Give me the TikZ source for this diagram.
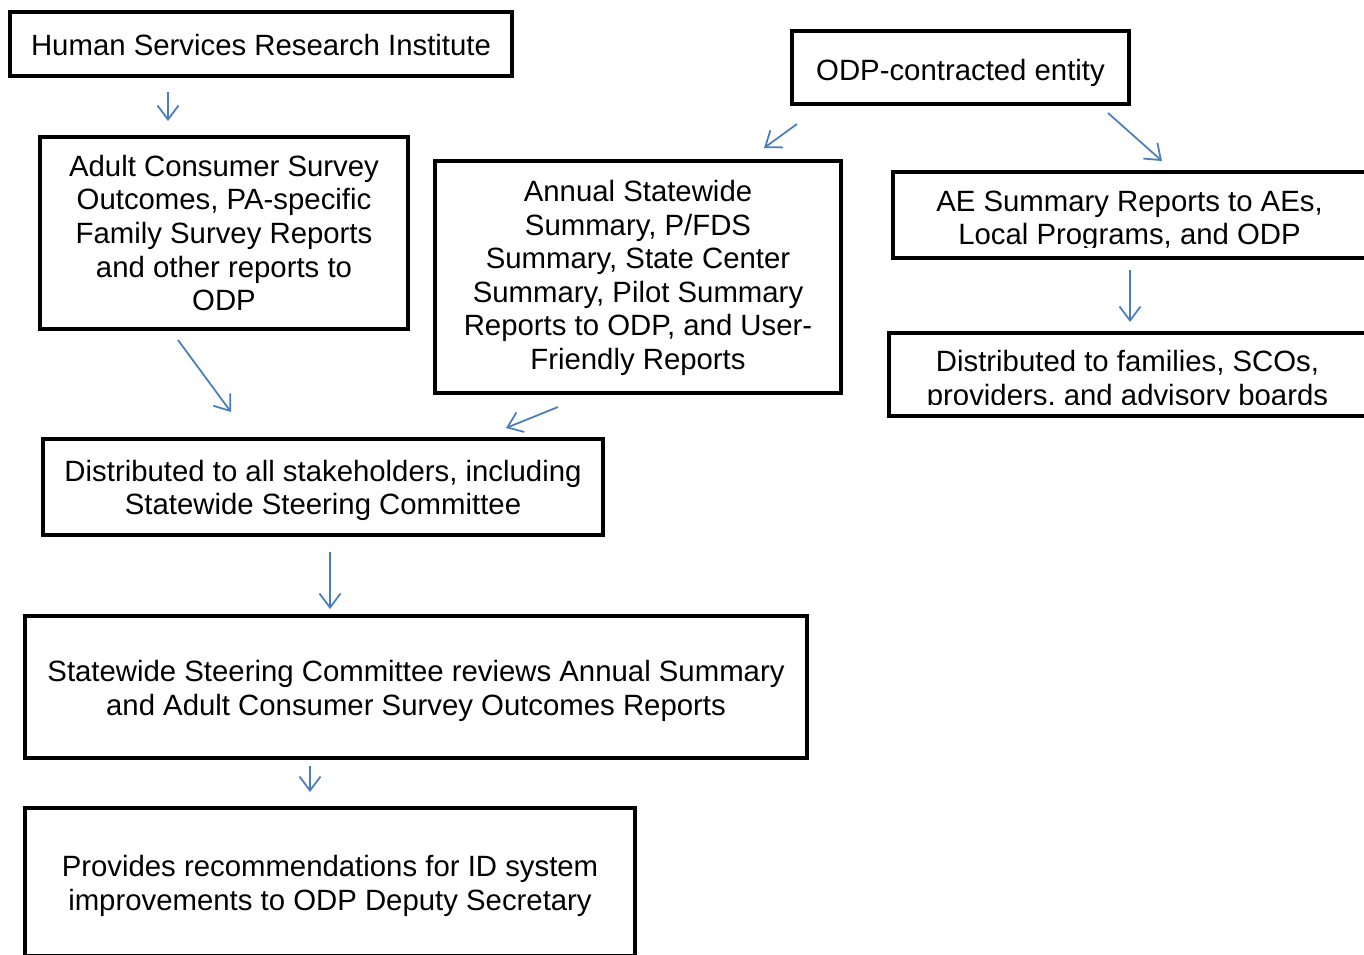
\documentclass[tikz,border=0pt]{standalone}
\usepackage{fontspec}
\setmainfont{Liberation Sans}
\usepackage{tikz}
\usetikzlibrary{arrows.meta}
\definecolor{flowblue}{RGB}{74,126,187}

\begin{document}
\begin{tikzpicture}[x=0.02cm, y=-0.02cm,
    box/.style={draw=black, line width=2.3pt, inner sep=0pt},
    boxtext/.style={align=center, inner sep=0pt,
      font=\fontsize{16.7}{19.1}\selectfont},
    flow/.style={draw=flowblue, line width=1pt,
      -{Straight Barb[length=8pt,width=12pt]}}]
      \useasboundingbox (0,0) rectangle (1364,954);
      % frames
      \node[box, minimum width=10.04cm, minimum height=1.28cm] (hsri) at (261,44) {};
      \node[box, minimum width=6.74cm, minimum height=1.46cm] (odp) at (960.5,67.5) {};
      \node[box, minimum width=7.36cm, minimum height=3.84cm] (adult) at (224,233) {};
      \node[box, minimum width=8.12cm, minimum height=4.64cm] (annual) at (638,277) {};
      \node[box, minimum width=9.46cm, minimum height=1.72cm] (ae) at (1129.5,215) {};
      \node[box, minimum width=9.54cm, minimum height=1.66cm] (families) at (1127.5,374.5) {};
      \node[box, minimum width=11.2cm, minimum height=1.92cm] (stake) at (323,487) {};
      \node[box, minimum width=15.64cm, minimum height=2.84cm] (steering) at (416,687) {};
      \node[box, minimum width=12.2cm, minimum height=2.96cm] (recs) at (330,882) {};
      % texts
      \node[boxtext] (hsri-text) at (261,45) {Human Services Research Institute};
      \node[boxtext] (odp-text) at (960.5,72.5) {ODP-contracted entity};
      \node[boxtext] (adult-text) at (224,233)
        {Adult Consumer Survey\\Outcomes, PA-specific\\Family Survey Reports\\and other reports to\\ODP};
      \node[boxtext] (annual-text) at (638,278)
        {Annual Statewide\\Summary, P/FDS\\Summary, State Center\\Summary, Pilot Summary\\Reports to ODP, and User-\\Friendly Reports};
      \begin{scope}
        \clip (893,172) rectangle (1364,247);
        \node[boxtext] (ae-text) at (1129.5,221)
          {AE Summary Reports to AEs,\\Local Programs, and ODP};
      \end{scope}
      \begin{scope}
        \clip (889,333) rectangle (1364,404.5);
        \node[boxtext] (families-text) at (1127.5,381)
          {Distributed to families, SCOs,\\providers, and advisory boards};
      \end{scope}
      \node[boxtext] (stake-text) at (323,490.5)
        {Distributed to all stakeholders, including\\Statewide Steering Committee};
      \node[boxtext] (steering-text) at (416,691)
        {Statewide Steering Committee reviews Annual Summary\\and Adult Consumer Survey Outcomes Reports};
      \node[boxtext] (recs-text) at (330,886)
        {Provides recommendations for ID system\\improvements to ODP Deputy Secretary};
      % arrow ends between the boxes
      \coordinate (hsri-out) at (168,92);
      \coordinate (adult-in) at (168,121);
      \coordinate (odp-outl) at (797,124);
      \coordinate (annual-in) at (764,148);
      \coordinate (odp-outr) at (1108,113);
      \coordinate (ae-in) at (1162,161);
      \coordinate (ae-out) at (1130,270);
      \coordinate (families-in) at (1130,322);
      \coordinate (adult-out) at (178,340);
      \coordinate (stake-inl) at (231,412);
      \coordinate (annual-out) at (558,407);
      \coordinate (stake-inr) at (506,428);
      \coordinate (stake-out) at (330,552);
      \coordinate (steering-in) at (330,609);
      \coordinate (steering-out) at (310,766);
      \coordinate (recs-in) at (310,792);
      \draw[flow] (hsri-out) -- (adult-in);
      \draw[flow] (odp-outl) -- (annual-in);
      \draw[flow] (odp-outr) -- (ae-in);
      \draw[flow] (ae-out) -- (families-in);
      \draw[flow] (adult-out) -- (stake-inl);
      \draw[flow] (annual-out) -- (stake-inr);
      \draw[flow] (stake-out) -- (steering-in);
      \draw[flow] (steering-out) -- (recs-in);
    \end{tikzpicture}
\end{document}
